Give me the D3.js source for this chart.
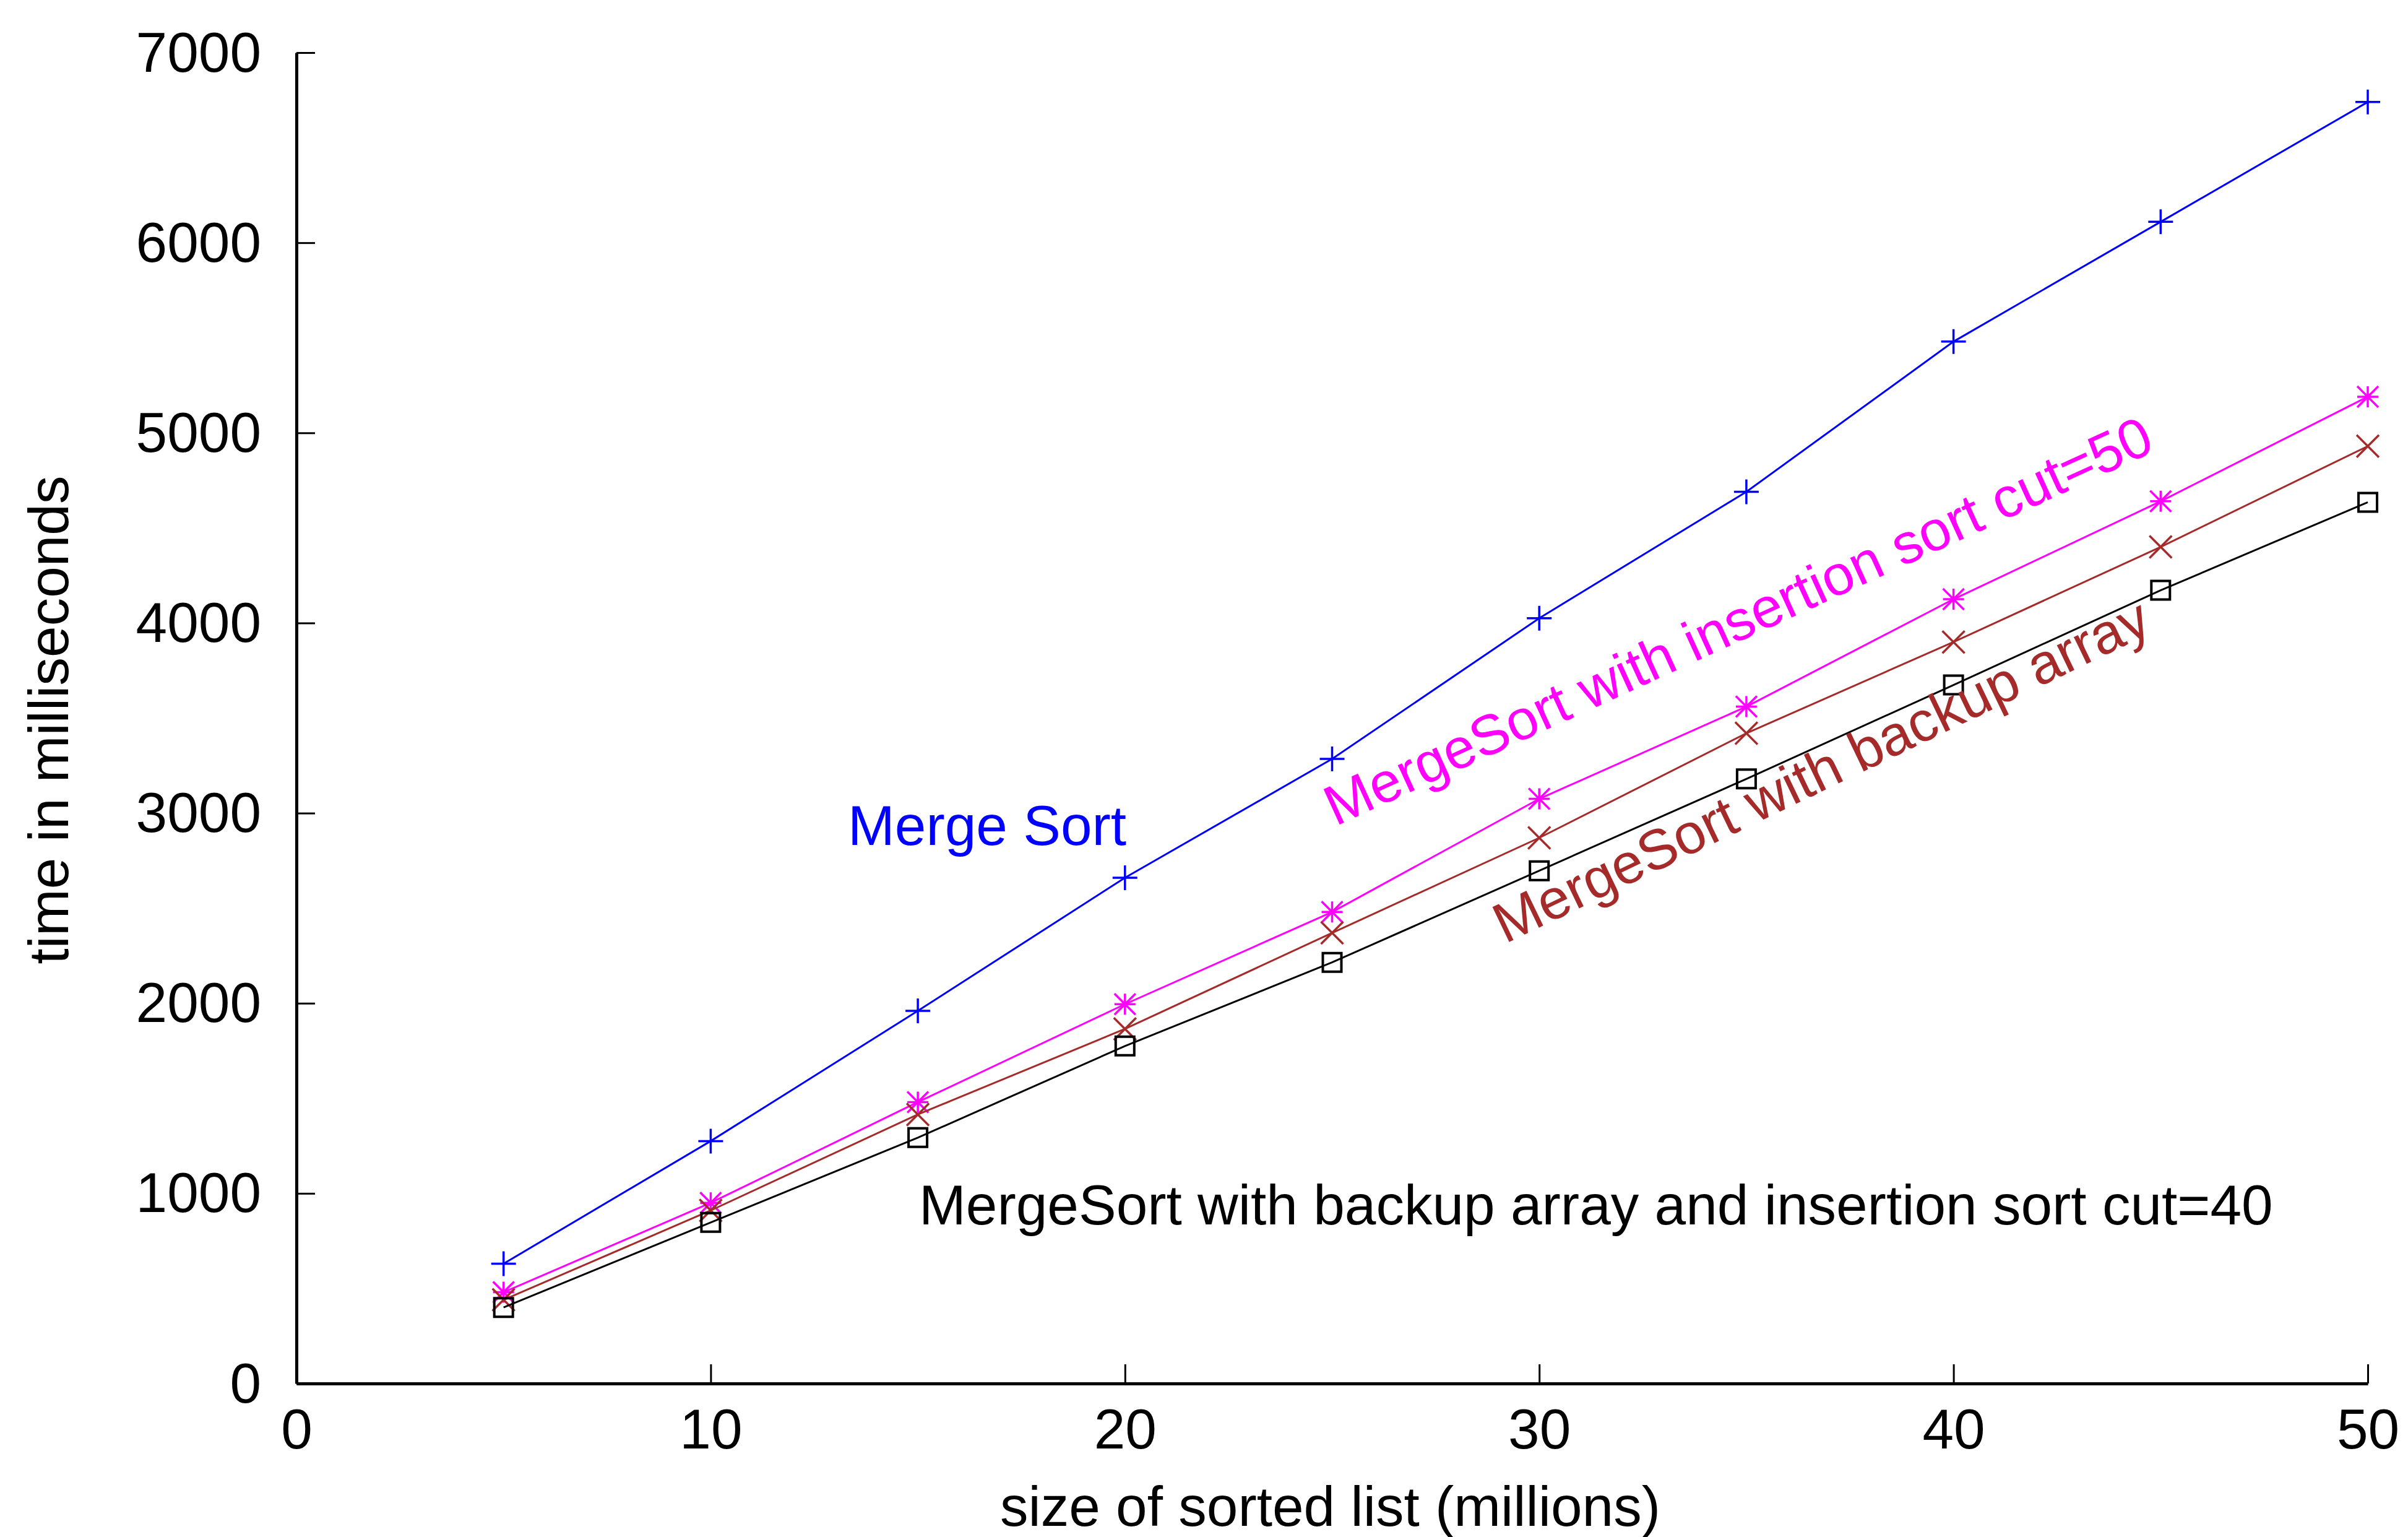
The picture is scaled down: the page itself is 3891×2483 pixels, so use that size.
<!DOCTYPE html>
<html>
<head>
<meta charset="utf-8">
<script src="https://cdn.jsdelivr.net/npm/d3@7"></script>
<style>
  html, body { margin: 0; padding: 0; background: #fff; }
  svg { display: block; }
  text { font-family: "Liberation Sans", Arial, Helvetica, sans-serif; }
</style>
</head>
<body>
<script>
// ---------- data ----------
const sizes = [5, 10, 15, 20, 25, 30, 35, 40, 45, 50];
const mergeSort          = [630, 1275, 1960, 2660, 3285, 4025, 4690, 5480, 6110, 6740];
const insertionCut50     = [480, 950, 1480, 1995, 2480, 3075, 3560, 4125, 4640, 5190];
const backupArray        = [440, 910, 1415, 1865, 2370, 2870, 3420, 3900, 4400, 4930];
const backupInsertion40  = [400, 847, 1293, 1775, 2215, 2697, 3180, 3674, 4172, 4635];
const xTicks = [0, 10, 20, 30, 40, 50];
const yTicks = [0, 1000, 2000, 3000, 4000, 5000, 6000, 7000];
const seriesNames = [
  "Merge Sort",
  "MergeSort with insertion sort cut=50",
  "MergeSort with backup array",
  "MergeSort with backup array and insertion sort cut=40"
];
const xTitle = "size of sorted list (millions)";
const yTitle = "time in milliseconds";

// ---------- layout ----------
const W = 3891, H = 2483;
const plotLeft = 479, plotRight = 3826, plotTop = 85, plotBottom = 2235;
const FS = 91;

const svg = d3.select("body").append("svg").attr("width", W).attr("height", H);

const x = d3.scaleLinear().domain([0, 50]).range([plotLeft, plotRight]);
const y = d3.scaleLinear().domain([0, 7000]).range([plotBottom, plotTop]);

// axes
const gx = svg.append("g").attr("transform", `translate(0,${plotBottom})`)
  .call(d3.axisBottom(x).tickValues(xTicks).tickSizeInner(-31).tickSizeOuter(0).tickPadding(0).tickFormat(d3.format("d")));
gx.select(".domain").attr("stroke", "#000").attr("stroke-width", 5);
gx.selectAll(".tick line").attr("stroke", "#000").attr("stroke-width", 3);
gx.selectAll(".tick text").attr("font-size", FS).attr("fill", "#000")
  .attr("y", 105).attr("dy", 0);

const gy = svg.append("g").attr("transform", `translate(${plotLeft},0)`)
  .call(d3.axisLeft(y).tickValues(yTicks).tickSizeInner(-30).tickSizeOuter(0).tickPadding(0).tickFormat(d3.format("d")));
gy.select(".domain").attr("stroke", "#000").attr("stroke-width", 5);
gy.selectAll(".tick line").attr("stroke", "#000").attr("stroke-width", 3);
gy.selectAll(".tick text").attr("font-size", FS).attr("fill", "#000")
  .attr("x", -57).attr("dy", "0.33em");

// axis titles
svg.append("text").attr("x", (plotLeft + plotRight) / 2 - 3).attr("y", 2465)
  .attr("text-anchor", "middle").attr("font-size", FS).attr("fill", "#000").text(xTitle);
svg.append("text").attr("transform", "translate(110,1163) rotate(-90)")
  .attr("text-anchor", "middle").attr("font-size", FS).attr("fill", "#000").text(yTitle);

// series
const series = [
  { vals: mergeSort, color: "#0000ff", marker: "plus" },
  { vals: insertionCut50, color: "#ff00ff", marker: "star" },
  { vals: backupArray, color: "#a52a2a", marker: "cross" },
  { vals: backupInsertion40, color: "#000000", marker: "square" }
];

const line = d3.line().x(d => x(d[0])).y(d => y(d[1]));

function markerPath(type, s) {
  const p = d3.path();
  if (type === "plus" || type === "star") {
    p.moveTo(-s, 0); p.lineTo(s, 0);
    p.moveTo(0, -s); p.lineTo(0, s);
  }
  if (type === "cross" || type === "star") {
    p.moveTo(-s, -s); p.lineTo(s, s);
    p.moveTo(-s, s); p.lineTo(s, -s);
  }
  if (type === "square") {
    p.rect(-s, -s, 2 * s, 2 * s);
  }
  return p.toString();
}
const markerSize = { plus: 20, star: 17, cross: 18, square: 15 };

series.forEach(sr => {
  const pts = sizes.map((s, i) => [s, sr.vals[i]]);
  svg.append("path").datum(pts).attr("d", line)
    .attr("fill", "none").attr("stroke", sr.color).attr("stroke-width", 3);
  svg.append("g").selectAll("path").data(pts).join("path")
    .attr("transform", d => `translate(${x(d[0])},${y(d[1])})`)
    .attr("d", markerPath(sr.marker, markerSize[sr.marker]))
    .attr("fill", "none").attr("stroke", sr.color)
    .attr("stroke-width", sr.marker === "square" ? 4 : 3.5);
});

// in-plot labels
svg.append("text").attr("x", 1370).attr("y", 1365)
  .attr("font-size", FS).attr("fill", "#0000ff").text(seriesNames[0]);
svg.append("text").attr("transform", "translate(2158,1335) rotate(-24.6)")
  .attr("font-size", FS).attr("fill", "#ff00ff").text(seriesNames[1]);
svg.append("text").attr("transform", "translate(2432,1525) rotate(-25.7)")
  .attr("font-size", FS).attr("fill", "#a52a2a").text(seriesNames[2]);
svg.append("text").attr("x", 1485).attr("y", 1978)
  .attr("font-size", FS).attr("fill", "#000").text(seriesNames[3]);
</script>
</body>
</html>
